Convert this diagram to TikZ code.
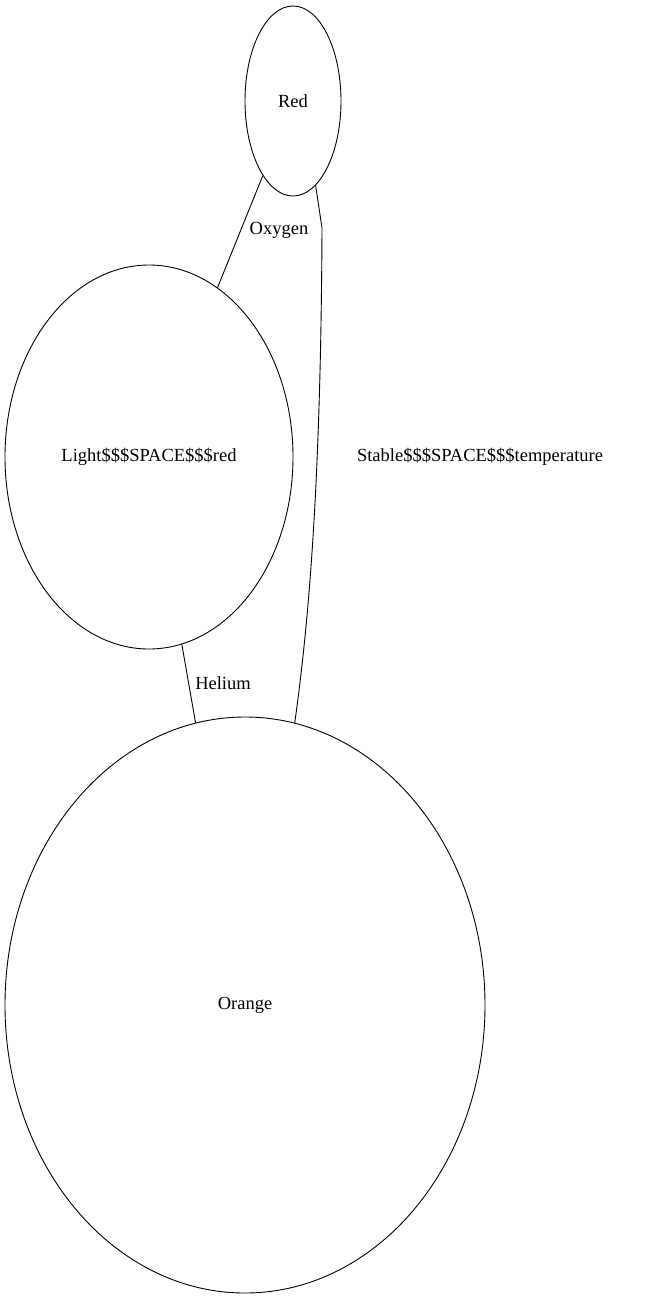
\documentclass[tikz,border=0pt]{standalone}
\usepackage{fontspec}
\setmainfont{Liberation Serif}
\usetikzlibrary{shapes.geometric}
\tikzset{
  blob/.style={draw,ellipse,inner sep=0pt,font=\fontsize{18.5pt}{21pt}\selectfont},
  edgelabel/.style={font=\fontsize{18.5pt}{21pt}\selectfont}
}
\begin{document}
\begin{tikzpicture}[x=1pt,y=-1pt,line width=0.9pt]
\useasboundingbox (0,0) rectangle (645,1299);

%nodes
\node[blob,minimum width=96pt,minimum height=190pt] (red) at (293,101) {Red};
\node[blob,minimum width=288pt,minimum height=384pt] (lightred) at (149,457) {Light\$\$\$SPACE\$\$\$red};
\node[blob,minimum width=480pt,minimum height=576pt] (orange) at (245,1005) {Orange};

%edges
\draw (red) -- (lightred);
\draw (lightred) -- (orange);
\coordinate (bend) at (322,228);
\draw (red.-75) -- (bend) .. controls (321,450) and (312,600) .. (orange.80);

%labels
\node[edgelabel] (oxygen) at (279,230) {Oxygen};
\node[edgelabel] (helium) at (223,683) {Helium};
\node[edgelabel] (stable) at (480,457) {Stable\$\$\$SPACE\$\$\$temperature};
\end{tikzpicture}
\end{document}
